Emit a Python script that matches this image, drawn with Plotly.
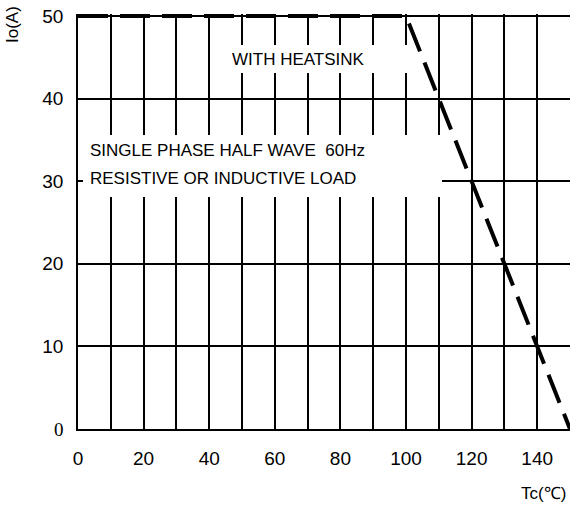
import plotly.graph_objects as go

# Data
curve_tc = [0, 100, 150]
curve_io = [50, 50, 0]
x_ticks = [0, 10, 20, 30, 40, 50, 60, 70, 80, 90, 100, 110, 120, 130, 140]
x_ticktext = ["0", "", "20", "", "40", "", "60", "", "80", "", "100", "", "120", "", "140"]
y_ticks = [0, 10, 20, 30, 40, 50]
y_ticktext = ['<span style="font-family:Liberation Serif, Times New Roman, serif">0</span>',
              "10", "20", "30", "40", "50"]
note_heatsink = "WITH HEATSINK"
note_lines = ["SINGLE PHASE HALF WAVE  60Hz", "RESISTIVE OR INDUCTIVE LOAD"]

FONT = "Liberation Sans, Arial, sans-serif"

W, H = 574, 508
ML, MR, MT, MB = 78, 4, 14, 79
X0, X1 = 0, 150
Y0, Y1 = 0, 50.25
PW, PH = W - ML - MR, H - MT - MB


def dx(px):
    return X0 + (px - ML) / PW * (X1 - X0)


def dy(py):
    return Y0 + (H - MB - py) / PH * (Y1 - Y0)


fig = go.Figure()
fig.add_trace(go.Scatter(
    x=curve_tc, y=curve_io, mode="lines",
    line=dict(color="black", width=4, dash="30px,12px"),
    showlegend=False, hoverinfo="skip",
))

fig.update_layout(
    width=W, height=H,
    margin=dict(l=ML, r=MR, t=MT, b=MB, autoexpand=False),
    paper_bgcolor="white", plot_bgcolor="white",
    font=dict(family=FONT, color="black", size=19),
    showlegend=False,
    xaxis=dict(
        range=[X0, X1], tickmode="array", tickvals=x_ticks, ticktext=x_ticktext,
        showgrid=True, gridcolor="black", gridwidth=1.6,
        showline=True, linecolor="black", linewidth=1.6,
        zeroline=False, ticks="", ticklabelstandoff=11, automargin=False,
        tickfont=dict(size=19, family=FONT),
    ),
    yaxis=dict(
        range=[Y0, Y1], tickmode="array", tickvals=y_ticks, ticktext=y_ticktext,
        showgrid=True, gridcolor="black", gridwidth=1.6,
        showline=True, linecolor="black", linewidth=1.6,
        zeroline=False, ticks="", ticklabelstandoff=9, automargin=False,
        tickfont=dict(size=19, family=FONT),
    ),
)

# white label boxes covering the grid
for (ax0, ay0, ax1, ay1) in [(215, 45, 412, 73), (83, 135, 442, 197)]:
    fig.add_shape(type="rect", xref="x", yref="y",
                  x0=dx(ax0), x1=dx(ax1), y0=dy(ay1), y1=dy(ay0),
                  fillcolor="white", line=dict(width=0), layer="above")

fig.add_annotation(x=dx(230), y=dy(59.5), xref="x", yref="y", xanchor="left",
                   yanchor="middle", text=note_heatsink, showarrow=False,
                   font=dict(size=17, family=FONT))
for txt, py in zip(note_lines, [150, 178]):
    fig.add_annotation(x=dx(88), y=dy(py), xref="x", yref="y", xanchor="left",
                       yanchor="middle", text=txt, showarrow=False,
                       font=dict(size=17, family=FONT))

fig.add_annotation(
    x=(12 - ML) / PW, y=(H - MB - 25) / PH, xref="paper", yref="paper",
    xanchor="center", yanchor="middle", text="Io(A)", textangle=-90,
    showarrow=False, font=dict(size=17, family=FONT),
)
fig.add_annotation(
    x=(543 - ML) / PW, y=(H - MB - 493) / PH, xref="paper", yref="paper",
    xanchor="center", yanchor="middle", text="Tc(℃)",
    showarrow=False, font=dict(size=17, family=FONT),
)

fig.write_html("out.html", config={"displayModeBar": False},
               post_script="document.body.style.margin='0';document.body.style.overflow='hidden';")
